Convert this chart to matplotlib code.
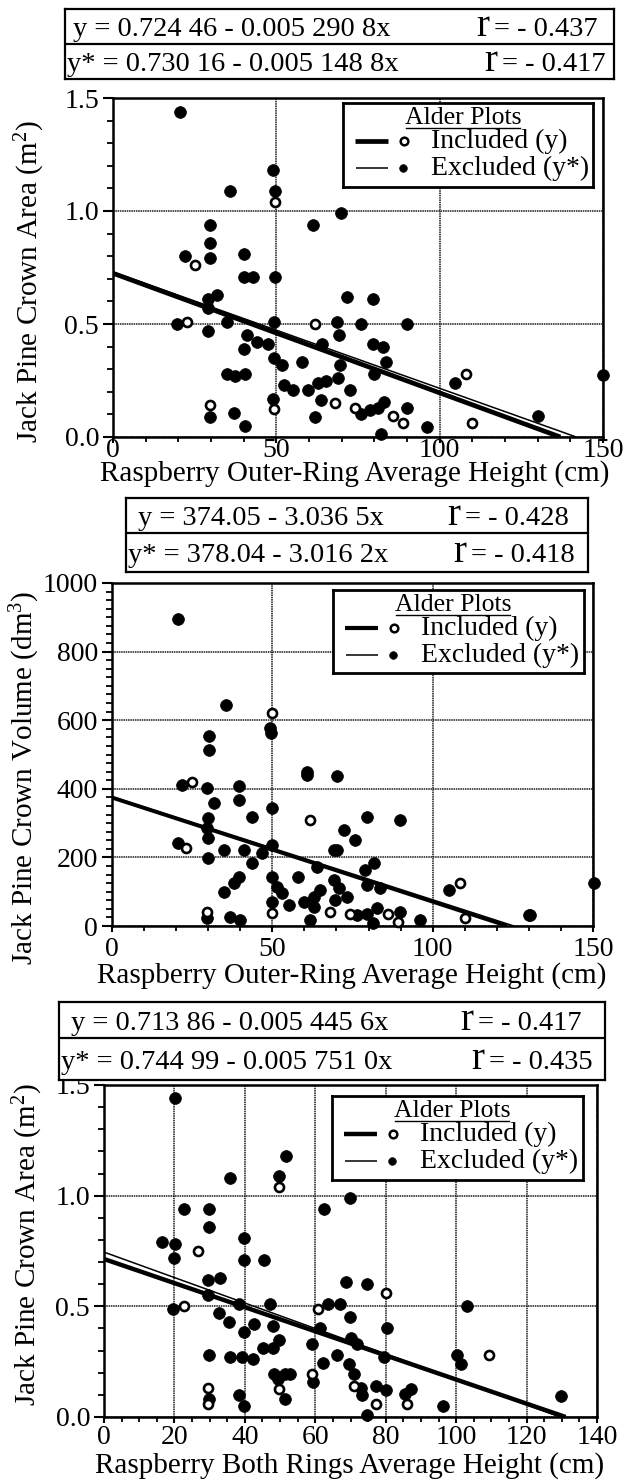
import numpy as np
import matplotlib
matplotlib.use("Agg")
import matplotlib.pyplot as plt
from matplotlib.ticker import MultipleLocator, FormatStrFormatter

plt.rcParams['font.family'] = ['Liberation Serif', 'DejaVu Serif']
plt.rcParams['mathtext.fontset'] = 'custom'
plt.rcParams['mathtext.rm'] = 'Liberation Serif'
plt.rcParams['mathtext.it'] = 'Liberation Serif:italic'
plt.rcParams['mathtext.bf'] = 'Liberation Serif:bold'

# ---------------------------------------------------------------------------
# Panel A: raspberry outer-ring average height (cm) vs jack pine crown area (m2)
# ---------------------------------------------------------------------------
a_incl_x = [49.6, 25.0, 22.8, 61.9, 108.2, 49.3, 68.0, 74.1, 85.8, 88.9, 109.8, 29.8]
a_incl_y = [1.04, 0.76, 0.51, 0.50, 0.28, 0.125, 0.15, 0.13, 0.095, 0.06, 0.06, 0.14]
a_excl_x = [20.6, 48.9, 35.9, 49.6, 69.8, 61.1, 29.8, 29.8, 29.8, 21.9, 40.2, 40.0,
            43.0, 49.6, 71.5, 79.7, 31.8, 29.2, 29.2, 19.6, 29.2, 34.9, 49.3, 68.7,
            69.2, 75.9, 89.9, 41.0, 40.0, 44.0, 47.6, 63.9, 79.7, 82.5, 49.4, 51.7,
            57.8, 69.5, 83.6, 79.9, 34.8, 37.4, 40.4, 69.0, 52.4, 55.2, 59.8, 62.9,
            65.2, 72.6, 104.7, 150.0, 49.1, 63.6, 61.9, 75.8, 78.7, 81.2, 82.9, 81.9,
            89.9, 96.0, 130.1, 29.8, 36.9, 40.4]
a_excl_y = [1.44, 1.18, 1.09, 1.09, 0.99, 0.94, 0.94, 0.86, 0.79, 0.80, 0.81, 0.71,
            0.71, 0.71, 0.62, 0.61, 0.63, 0.61, 0.57, 0.50, 0.47, 0.51, 0.51, 0.51,
            0.45, 0.50, 0.50, 0.45, 0.39, 0.42, 0.41, 0.41, 0.41, 0.40, 0.35, 0.32,
            0.33, 0.32, 0.33, 0.28, 0.28, 0.27, 0.28, 0.26, 0.23, 0.21, 0.21, 0.24,
            0.25, 0.21, 0.24, 0.275, 0.17, 0.165, 0.09, 0.10, 0.12, 0.13, 0.155, 0.015,
            0.13, 0.045, 0.095, 0.09, 0.105, 0.05]
a_fit_y = (0.72446, -0.0052908)
a_fit_ystar = (0.73016, -0.0051488)
a_equations = ["y = 0.724 46 - 0.005 290 8x", "y* = 0.730 16 - 0.005 148 8x"]
a_r_values = ["= - 0.437", "= - 0.417"]

# ---------------------------------------------------------------------------
# Panel B: raspberry outer-ring average height (cm) vs jack pine crown volume (dm3)
# ---------------------------------------------------------------------------
b_incl_x = [49.9, 24.9, 61.9, 23.2, 108.4, 49.9, 29.6, 68.1, 74.1, 86.0, 89.2, 110.2]
b_incl_y = [621, 421, 309, 227, 126, 37, 42, 42, 34, 34, 13, 22]
b_excl_x = [20.6, 35.7, 49.4, 49.7, 30.1, 30.1, 60.8, 60.8, 70.2, 21.8, 39.5, 29.6,
            39.5, 31.7, 43.7, 49.9, 79.5, 89.9, 29.8, 29.6, 72.2, 75.9, 20.5, 29.8,
            34.8, 41.1, 29.8, 43.7, 46.8, 49.9, 69.1, 70.2, 63.9, 81.6, 79.0, 83.7,
            79.5, 39.5, 38.0, 34.8, 49.9, 51.5, 53.0, 49.9, 55.1, 58.0, 59.8, 62.9,
            65.0, 62.9, 69.1, 70.7, 73.3, 69.6, 105.0, 150.2, 61.9, 81.4, 29.6, 36.9,
            40.0, 76.4, 79.5, 82.6, 89.9, 96.2, 129.9, 130.4]
b_excl_y = [895, 645, 577, 562, 553, 514, 450, 441, 436, 411, 409, 402,
            368, 360, 319, 343, 319, 309, 314, 285, 280, 251, 243, 256,
            222, 222, 197, 183, 212, 236, 222, 222, 173, 183, 163, 110,
            120, 144, 125, 100, 144, 115, 95, 71, 61, 144, 71, 86,
            105, 56, 134, 110, 86, 76, 105, 125, 18, 8, 22, 27,
            18, 32, 34, 52, 42, 18, 32, 32]
b_fit_y = (374.05, -3.0365)
b_fit_ystar = (378.04, -3.0162)
b_equations = ["y = 374.05 - 3.036 5x", "y* = 378.04 - 3.016 2x"]
b_r_values = ["= - 0.428", "= - 0.418"]

# ---------------------------------------------------------------------------
# Panel C: raspberry both-rings average height (cm) vs jack pine crown area (m2)
# ---------------------------------------------------------------------------
c_incl_x = [49.7, 26.7, 80.1, 22.8, 60.9, 109.3, 59.0, 70.9, 49.7, 29.5, 29.5, 86.1, 77.2]
c_incl_y = [1.04, 0.75, 0.56, 0.50, 0.49, 0.28, 0.195, 0.14, 0.125, 0.133, 0.057, 0.06, 0.06]
c_excl_x = [20.1, 51.8, 35.8, 49.7, 69.8, 22.7, 29.7, 62.5, 29.7, 16.5, 20.1, 19.9,
            39.8, 39.8, 45.3, 29.5, 32.9, 29.5, 68.7, 74.8, 19.5, 32.6, 35.5, 38.4,
            47.0, 63.6, 67.1, 103.1, 69.8, 42.7, 39.8, 47.9, 49.7, 61.2, 80.5, 70.0,
            71.9, 59.0, 45.1, 47.9, 29.7, 35.7, 39.3, 42.2, 66.2, 79.6, 100.2, 101.4,
            62.3, 69.5, 48.4, 51.3, 52.7, 59.4, 70.9, 72.9, 73.4, 77.2, 80.1, 49.4,
            51.3, 29.9, 38.4, 39.8, 85.5, 87.2, 74.8, 96.4, 129.9]
c_excl_y = [1.44, 1.18, 1.08, 1.09, 0.99, 0.94, 0.94, 0.94, 0.86, 0.79, 0.78, 0.72,
            0.81, 0.71, 0.71, 0.62, 0.63, 0.55, 0.61, 0.60, 0.49, 0.47, 0.43, 0.51,
            0.51, 0.51, 0.51, 0.50, 0.45, 0.42, 0.385, 0.41, 0.35, 0.40, 0.40, 0.355,
            0.33, 0.33, 0.31, 0.31, 0.28, 0.27, 0.27, 0.26, 0.28, 0.27, 0.28, 0.24,
            0.245, 0.24, 0.195, 0.195, 0.195, 0.16, 0.195, 0.13, 0.10, 0.14, 0.12, 0.17,
            0.083, 0.083, 0.098, 0.048, 0.106, 0.128, 0.008, 0.048, 0.094]
c_fit_y = (0.71386, -0.0054456)
c_fit_ystar = (0.74499, -0.0057510)
c_equations = ["y = 0.713 86 - 0.005 445 6x", "y* = 0.744 99 - 0.005 751 0x"]
c_r_values = ["= - 0.417", "= - 0.435"]

xlabel_outer = "Raspberry Outer-Ring Average Height (cm)"
xlabel_both = "Raspberry Both Rings Average Height (cm)"
ylabel_area = "Jack Pine Crown Area (m$^2$)"
ylabel_volume = "Jack Pine Crown Volume (dm$^3$)"
legend_title = "Alder Plots"
legend_labels = ["Included (y)", "Excluded (y*)"]

# ---------------------------------------------------------------------------
TICK_FS = 20
XLAB_FS = 21
YLAB_FS = 21
EQ_FS = 20.5
R_FS = 28
LEG_TITLE_FS = 18.5
LEG_FS = 20

W, H = 632, 1482
fig = plt.figure(figsize=(W / 100, H / 100), dpi=100)
renderer = fig.canvas.get_renderer()


def frac_rect(l, t, r, b):
    return [l / W, 1 - b / H, (r - l) / W, (b - t) / H]


def pixel_axes(l, t, r, b, z):
    ax = fig.add_axes(frac_rect(l, t, r, b), zorder=z)
    ax.set_xlim(l, r)
    ax.set_ylim(b, t)
    ax.set_xticks([])
    ax.set_yticks([])
    return ax


def equation_box(box, divider, equations, r_values, pads):
    l, t, r, b = box
    bx = pixel_axes(l, t, r, b, 6)
    for s in bx.spines.values():
        s.set_linewidth(1.6)
    bx.plot([l, r], [divider, divider], color='k', lw=1.6, solid_capstyle='butt')
    centers = [(t + divider) / 2, (divider + b) / 2]
    half_digit = 0.338 * EQ_FS * 100 / 72
    inv = bx.transData.inverted()
    for eq, rv, (lpad, rpad), yc in zip(equations, r_values, pads, centers):
        base = yc + half_digit
        bx.text(l + lpad, base, eq, ha='left', va='baseline', fontsize=EQ_FS)
        rt = bx.text(r - rpad, base, rv, ha='right', va='baseline', fontsize=EQ_FS)
        x0 = rt.get_window_extent(renderer).x0
        xd = inv.transform((x0, 0))[0]
        bx.text(xd - 5, base, 'r', ha='right', va='baseline', fontsize=R_FS)


def legend_box(box, thick_lw):
    l, t, r, b = box
    lg = pixel_axes(l, t, r, b, 5)
    lg.set_facecolor('white')
    for s in lg.spines.values():
        s.set_linewidth(2.0)
    title = lg.text(l + 120, t + 15, legend_title, ha='center', va='center',
                    fontsize=LEG_TITLE_FS)
    bb = title.get_window_extent(renderer)
    inv = lg.transData.inverted()
    ux0 = inv.transform((bb.x0, 0))[0]
    ux1 = inv.transform((bb.x1, 0))[0]
    lg.plot([ux0 + 1, ux1 - 1], [t + 25, t + 25], color='k', lw=1.0)
    rows = [t + 38, t + 65]
    # included: heavy line + open circle
    lg.plot([l + 12, l + 45], [rows[0], rows[0]], color='k', lw=thick_lw,
            solid_capstyle='butt')
    lg.plot([l + 61], [rows[0]], 'o', ms=5.5, mfc='white', mec='k', mew=1.8)
    lg.text(l + 88, rows[0], legend_labels[0], ha='left', va='center', fontsize=LEG_FS)
    # excluded: thin line + solid dot
    lg.plot([l + 13, l + 45], [rows[1], rows[1]], color='k', lw=1.1,
            solid_capstyle='butt')
    lg.plot([l + 60], [rows[1]], 'o', ms=5.5, mfc='k', mec='k', mew=0.5)
    lg.text(l + 88, rows[1], legend_labels[1], ha='left', va='center', fontsize=LEG_FS)


def scatter_panel(box, xlim, ylim, xmajor, xminor, ymajor, yminor, yfmt,
                  incl_x, incl_y, excl_x, excl_y, fit_y, fit_ystar,
                  thick_lw, xpad):
    l, t, r, b = box
    ax = fig.add_axes(frac_rect(l, t, r, b), zorder=2)
    ax.set_xlim(*xlim)
    ax.set_ylim(*ylim)
    ax.xaxis.set_major_locator(MultipleLocator(xmajor))
    ax.xaxis.set_minor_locator(MultipleLocator(xminor))
    ax.yaxis.set_major_locator(MultipleLocator(ymajor))
    ax.yaxis.set_minor_locator(MultipleLocator(yminor))
    ax.yaxis.set_major_formatter(FormatStrFormatter(yfmt))
    ax.xaxis.set_major_formatter(FormatStrFormatter('%d'))
    for s in ax.spines.values():
        s.set_linewidth(1.8)
    ax.tick_params(axis='y', which='major', direction='out', length=7, width=1.5,
                   pad=3, labelsize=TICK_FS)
    ax.tick_params(axis='y', which='minor', direction='out', length=4, width=1.3)
    ax.tick_params(axis='x', which='major', direction='out', length=4, width=1.5,
                   pad=xpad, labelsize=TICK_FS)
    ax.tick_params(axis='x', which='minor', direction='out', length=3.5, width=1.3)
    ax.set_axisbelow(True)
    ax.grid(True, which='major', color='0.1', lw=1.1, ls=(0, (1.0, 0.5)))

    ax.plot(excl_x, excl_y, 'o', ms=8.5, mfc='k', mec='k', mew=0.5, ls='none',
            clip_on=False, zorder=3)
    for (a0, a1), lw in ((fit_y, thick_lw), (fit_ystar, 1.1)):
        xs = np.array([0.0, -a0 / a1])
        ax.plot(xs, a0 + a1 * xs, color='k', lw=lw, solid_capstyle='butt', zorder=3.5)
    ax.plot(incl_x, incl_y, 'o', ms=6.5, mfc='white', mec='k', mew=1.9, ls='none',
            clip_on=False, zorder=4)
    return ax


def axis_labels(xlab, xc, yc_x, ylab, yx, yy):
    fig.text(xc / W, 1 - yc_x / H, xlab, ha='center', va='center', fontsize=XLAB_FS)
    fig.text(yx / W, 1 - yy / H, ylab, ha='center', va='center', rotation=90,
             fontsize=YLAB_FS)


# ---- Panel A ----
scatter_panel((113, 98, 603, 437), (0, 150), (0, 1.5), 50, 10, 0.5, 0.1, '%.1f',
              a_incl_x, a_incl_y, a_excl_x, a_excl_y, a_fit_y, a_fit_ystar,
              3.4, -3.5)
legend_box((343, 103, 593, 187), 3.4)
equation_box((65, 9, 614, 79), 44, a_equations, a_r_values, [(8, 16), (2, 8)])
axis_labels(xlabel_outer, 355, 474, ylabel_area, 30, 282)

# ---- Panel B ----
scatter_panel((112, 583, 593, 926), (0, 150), (0, 1000), 50, 10, 200, 25, '%d',
              b_incl_x, b_incl_y, b_excl_x, b_excl_y, b_fit_y, b_fit_ystar,
              2.6, 4.0)
legend_box((333, 590, 584, 673), 3.0)
equation_box((126, 498, 588, 572), 533, b_equations, b_r_values, [(12, 19), (2, 13)])
axis_labels(xlabel_outer, 352, 976, ylabel_volume, 25, 778)

# ---- Panel C ----
scatter_panel((104, 1085, 597, 1417), (0, 140), (0, 1.5), 20, 5, 0.5, 0.1, '%.1f',
              c_incl_x, c_incl_y, c_excl_x, c_excl_y, c_fit_y, c_fit_ystar,
              3.2, 2.0)
legend_box((332, 1096, 583, 1180), 3.2)
equation_box((59, 1002, 605, 1080), 1038, c_equations, c_r_values, [(12, 23), (2, 12)])
axis_labels(xlabel_both, 350, 1466, ylabel_area, 28, 1245)

fig.savefig("out.png", dpi=100, facecolor='white')
